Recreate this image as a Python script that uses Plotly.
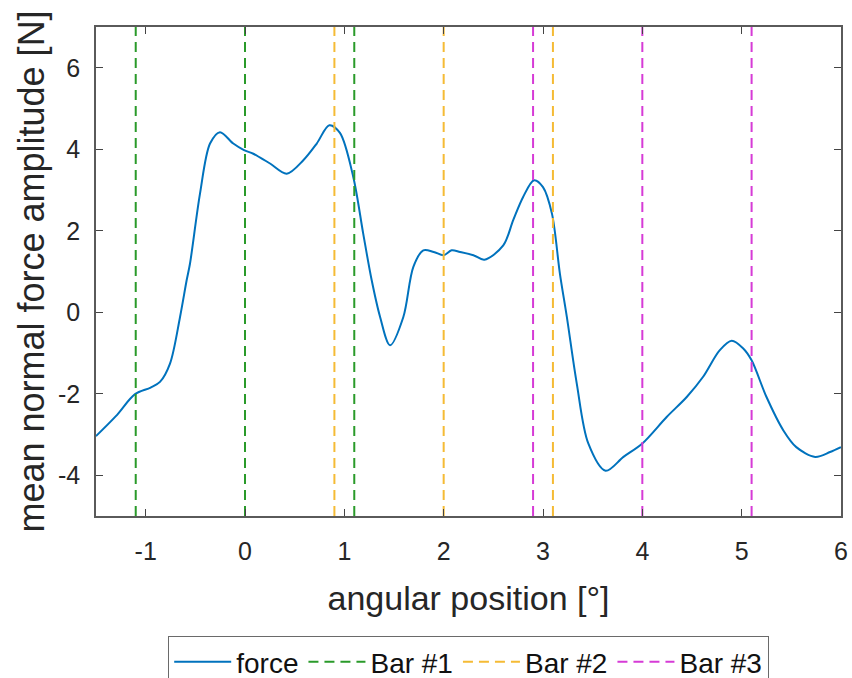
import plotly.graph_objects as go

# Mean normal force amplitude versus angular position
angle = [-1.5, -1.3, -1.107, -0.95, -0.856, -0.755, -0.654, -0.587, -0.554, -0.453, -0.352,
         -0.252, -0.118, -0.01, 0.084, 0.252, 0.42, 0.587, 0.722, 0.849, 0.956, 1.09, 1.19,
         1.275, 1.36, 1.46, 1.594, 1.694, 1.795, 1.9, 2.0, 2.08, 2.165, 2.30, 2.41, 2.60,
         2.70, 2.80, 2.91, 3.0, 3.09, 3.17, 3.24, 3.34, 3.456, 3.63, 3.81, 4.0, 4.245, 4.447,
         4.61, 4.78, 4.90, 5.016, 5.10, 5.25, 5.42, 5.55, 5.74, 5.89, 6.0]
force = [-3.04, -2.55, -2.01, -1.85, -1.71, -1.26, -0.115, 0.79, 1.19, 2.91, 4.14,
         4.42, 4.14, 3.98, 3.89, 3.65, 3.40, 3.73, 4.14, 4.59, 4.40, 3.32, 1.93,
         0.79, -0.115, -0.81, -0.115, 1.11, 1.52, 1.48, 1.40, 1.52, 1.48, 1.40, 1.29, 1.64,
         2.26, 2.83, 3.24, 3.07, 2.42, 0.95, -0.115, -1.75, -3.22, -3.89, -3.55, -3.22, -2.57, -2.08,
         -1.59, -0.93, -0.70, -0.89, -1.18, -2.08, -2.90, -3.31, -3.55, -3.43, -3.31]

# Bar edge / centre positions
bar_names = ["Bar #1", "Bar #2", "Bar #3"]
bar_positions = [[-1.1, 0.0, 1.1], [0.9, 2.0, 3.1], [2.9, 4.0, 5.1]]
bar_colors = ["#2a9a2a", "#f5bb35", "#d63bd6"]

x_ticks = [-1, 0, 1, 2, 3, 4, 5, 6]
y_ticks = [-4, -2, 0, 2, 4, 6]
x_range = [-1.5, 6]
y_range = [-5, 7]

FONT = "Liberation Sans, Arial, Helvetica, sans-serif"

fig = go.Figure()
fig.add_trace(go.Scatter(
    x=angle, y=force, mode="lines", name="force",
    line=dict(color="#0072BD", width=2, shape="spline", smoothing=0.9),
))

for name, positions, color in zip(bar_names, bar_positions, bar_colors):
    for i, pos in enumerate(positions):
        fig.add_trace(go.Scatter(
            x=[pos, pos], y=y_range, mode="lines", name=name,
            legendgroup=name, showlegend=(i == 0),
            line=dict(color=color, width=2, dash="10px,6px"),
        ))

axis_common = dict(
    showgrid=False, zeroline=False, showline=True, mirror="ticks",
    linecolor="#5a5a5a", linewidth=1.5, ticks="inside", ticklen=7,
    tickcolor="#444444", tickwidth=1.2,
    tickfont=dict(size=25, color="#262626", family=FONT),
)

fig.update_layout(
    width=852, height=678,
    margin=dict(l=96, r=11, t=27, b=162, autoexpand=False),
    paper_bgcolor="white", plot_bgcolor="white",
    font=dict(family=FONT, color="#262626"),
    xaxis=dict(range=x_range, tickvals=x_ticks, ticktext=[str(v) for v in x_ticks],
               ticklabelstandoff=12,
               title=dict(text="angular position [°]", font=dict(size=34), standoff=22),
               **axis_common),
    yaxis=dict(range=y_range, tickvals=y_ticks, ticktext=[str(v) for v in y_ticks],
               ticklabelstandoff=9,
               title=dict(text="mean normal force amplitude [N]", font=dict(size=36), standoff=2),
               **axis_common),
    legend=dict(orientation="h", x=0.5, xanchor="center", y=-0.245, yanchor="top",
                bordercolor="#6a6a6a", borderwidth=1.2, bgcolor="white",
                font=dict(size=28, color="#111111", family=FONT), itemwidth=57,
                tracegroupgap=0, traceorder="normal"),
    showlegend=True,
)

fig.write_html("out.html")
